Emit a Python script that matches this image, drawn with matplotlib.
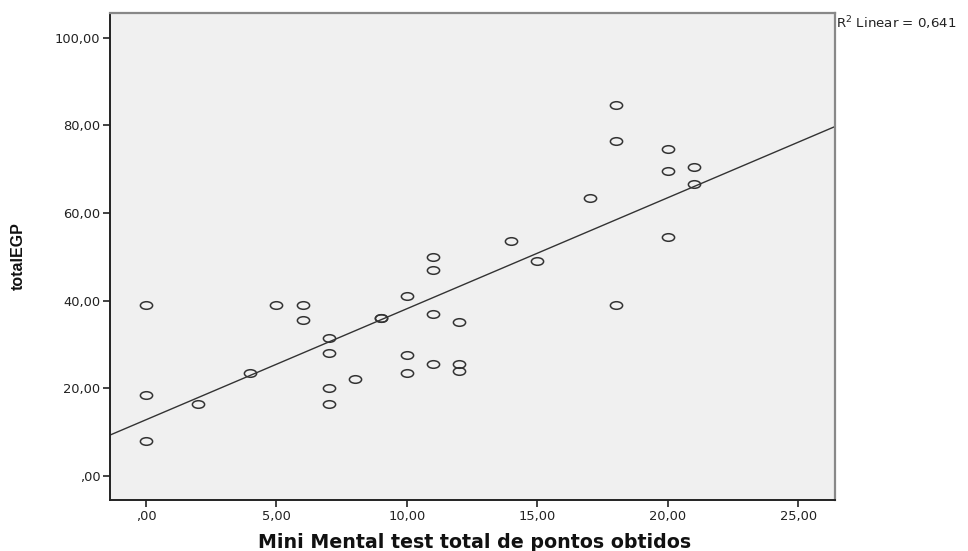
import matplotlib.pyplot as plt
import numpy as np
from matplotlib.path import Path
from matplotlib.ticker import FuncFormatter

# Mini Mental score vs total EGP, one entry per subject
mmse = [0, 0, 0, 2, 4, 5, 6, 6, 7, 7, 7, 7, 8, 9, 9, 10, 10, 10,
        11, 11, 11, 11, 12, 12, 12, 14, 15, 17, 18, 18, 18, 20, 20, 20, 21, 21]
egp = [39, 18.5, 8, 16.5, 23.5, 39, 39, 35.5, 31.5, 28, 20, 16.5, 22, 36, 36, 41, 27.5, 23.5,
       50, 47, 37, 25.5, 35, 25.5, 24, 53.5, 49, 63.5, 84.5, 76.5, 39, 74.5, 69.5, 54.5, 70.5, 66.5]
r2_label = 'R$^2$ Linear = 0,641'

x_ticks = [0, 5, 10, 15, 20, 25]
y_ticks = [0, 20, 40, 60, 80, 100]


def spss_fmt(v, pos):
    s = f'{v:.2f}'.replace('.', ',')
    return s[1:] if s.startswith('0,') else s


# flattened open circle marker
circ = Path.unit_circle()
oval = Path(circ.vertices * np.array([1.0, 0.62]), circ.codes)

fig = plt.figure(figsize=(9.68, 5.51), dpi=100)
ax = fig.add_axes([0.1136, 0.0926, 0.749, 0.8838])
ax.set_facecolor('#f0f0f0')

ax.plot(mmse, egp, linestyle='none', marker=oval, markersize=8.8,
        markerfacecolor='none', markeredgecolor='#333333', markeredgewidth=1.1)

# least-squares fit line across the full x range
slope, intercept = np.polyfit(mmse, egp, 1)
xlim = (-1.38, 26.4)
xs = np.array(xlim)
ax.plot(xs, intercept + slope * xs, color='#333333', linewidth=1.0)

ax.set_xlim(*xlim)
ax.set_ylim(-5.5, 105.6)
ax.set_xticks(x_ticks)
ax.set_yticks(y_ticks)
ax.xaxis.set_major_formatter(FuncFormatter(spss_fmt))
ax.yaxis.set_major_formatter(FuncFormatter(spss_fmt))
ax.tick_params(direction='out', length=5, width=1.2, color='#222222',
               labelsize=9.4, labelcolor='#222222', pad=2)
for lbl in ax.get_xticklabels() + ax.get_yticklabels():
    lbl.set_family(['DejaVu Sans'])

for side in ('left', 'bottom'):
    ax.spines[side].set_color('#222222')
    ax.spines[side].set_linewidth(1.4)
for side in ('top', 'right'):
    ax.spines[side].set_color('#888888')
    ax.spines[side].set_linewidth(1.6)

fig.text(0.49, 3 / 551, 'Mini Mental test total de pontos obtidos', fontsize=13.7,
         fontweight='bold', family=['DejaVu Sans'], ha='center', va='baseline',
         color='#111111')
fig.text(18 / 968, 0.535, 'totalEGP', fontsize=11.5, fontweight='bold', rotation=90,
         family=['Liberation Sans Narrow', 'Liberation Sans'], ha='center', va='center',
         color='#111111')

fig.text(0.8636, 0.958, r2_label, fontsize=9.6, color='#222222',
         family=['DejaVu Sans'], ha='left', va='center')

fig.savefig('out.png', dpi=100)
